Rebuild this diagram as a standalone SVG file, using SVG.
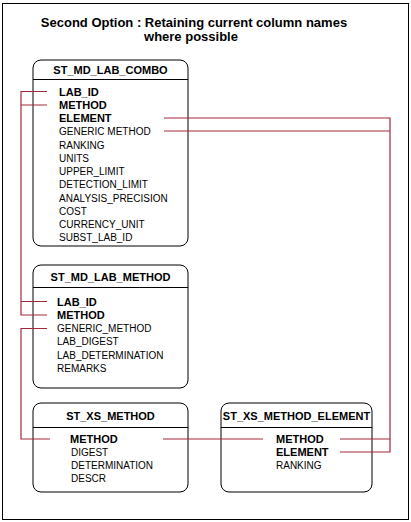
<svg xmlns="http://www.w3.org/2000/svg" width="411" height="522" viewBox="0 0 411 522">
<style>
.frame{fill:#fff;stroke:#000;stroke-width:1}
.box{fill:#fff;stroke:#000;stroke-width:1}
.div{stroke:#000;stroke-width:1}
.conn{fill:none;stroke:#a3283a;stroke-width:1.2}
.title{font-family:"Liberation Sans",Arial,sans-serif;font-size:13px;font-weight:bold;fill:#000}
.hdr{font-family:"Liberation Sans",Arial,sans-serif;font-size:11px;font-weight:bold;fill:#000}
.key{font-family:"Liberation Sans",Arial,sans-serif;font-size:11px;font-weight:bold;fill:#000}
.fld{font-family:"Liberation Sans",Arial,sans-serif;font-size:10px;fill:#000}
</style>
<rect class="frame" x="2.5" y="3.5" width="406" height="516"/>
<g id="title">
<text class="title" x="194" y="27" text-anchor="middle">Second Option : Retaining current column names</text>
<text class="title" x="191" y="41" text-anchor="middle">where possible</text>
</g>
<g id="ST_MD_LAB_COMBO">
<rect class="box" x="33" y="60" width="155" height="186" rx="8"/>
<line class="div" x1="33" y1="79.5" x2="188" y2="79.5"/>
<text class="hdr" x="110.5" y="74" text-anchor="middle">ST_MD_LAB_COMBO</text>
<text class="key" x="59" y="95.5">LAB_ID</text>
<text class="key" x="59" y="108.75">METHOD</text>
<text class="key" x="59" y="122">ELEMENT</text>
<text class="fld" x="59" y="135.25">GENERIC  METHOD</text>
<text class="fld" x="59" y="148.5">RANKING</text>
<text class="fld" x="59" y="161.75">UNITS</text>
<text class="fld" x="59" y="175">UPPER_LIMIT</text>
<text class="fld" x="59" y="188.25">DETECTION_LIMIT</text>
<text class="fld" x="59" y="201.5">ANALYSIS_PRECISION</text>
<text class="fld" x="59" y="214.75">COST</text>
<text class="fld" x="59" y="228">CURRENCY_UNIT</text>
<text class="fld" x="59" y="241.25">SUBST_LAB_ID</text>
</g>
<g id="ST_MD_LAB_METHOD">
<rect class="box" x="33" y="265" width="155" height="123" rx="8"/>
<line class="div" x1="33" y1="287.5" x2="188" y2="287.5"/>
<text class="hdr" x="110.5" y="281" text-anchor="middle">ST_MD_LAB_METHOD</text>
<text class="key" x="57" y="305.5">LAB_ID</text>
<text class="key" x="57" y="318.75">METHOD</text>
<text class="fld" x="57" y="332">GENERIC_METHOD</text>
<text class="fld" x="57" y="345.25">LAB_DIGEST</text>
<text class="fld" x="57" y="358.5">LAB_DETERMINATION</text>
<text class="fld" x="57" y="371.75">REMARKS</text>
</g>
<g id="ST_XS_METHOD">
<rect class="box" x="33" y="403" width="155" height="89" rx="8"/>
<line class="div" x1="33" y1="427.5" x2="188" y2="427.5"/>
<text class="hdr" x="110.5" y="420" text-anchor="middle">ST_XS_METHOD</text>
<text class="key" x="70" y="443">METHOD</text>
<text class="fld" x="71" y="456">DIGEST</text>
<text class="fld" x="71" y="469">DETERMINATION</text>
<text class="fld" x="71" y="482">DESCR</text>
</g>
<g id="ST_XS_METHOD_ELEMENT">
<rect class="box" x="221" y="403" width="151" height="89" rx="8"/>
<line class="div" x1="221" y1="427.5" x2="372" y2="427.5"/>
<text class="hdr" x="296.5" y="420" text-anchor="middle">ST_XS_METHOD_ELEMENT</text>
<text class="key" x="276" y="443">METHOD</text>
<text class="key" x="276" y="456">ELEMENT</text>
<text class="fld" x="276" y="469">RANKING</text>
</g>
<g id="connectors">
<path class="conn" d="M47 91.5H21V315H47M21 105H47M21 301.5H47"/>
<path class="conn" d="M47 328.5H21V439H50"/>
<path class="conn" d="M163 439H263"/>
<path class="conn" d="M164 118H390V452H340M164 131H390M340 439H390"/>
</g>
</svg>
